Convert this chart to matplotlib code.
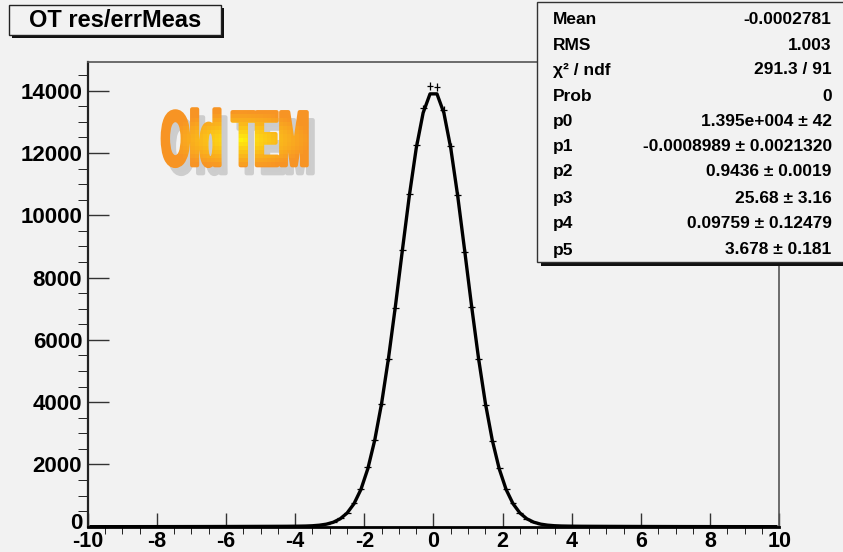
import numpy as np
import matplotlib
matplotlib.use("Agg")
import matplotlib.pyplot as plt
import matplotlib.patheffects as pe
from matplotlib.patches import Rectangle
from matplotlib.ticker import MultipleLocator
from matplotlib.transforms import Affine2D, Bbox, ScaledTranslation

plt.rcParams["axes.unicode_minus"] = False

# histogram: 100 bins from -10 to 10
X_MIN, X_MAX, N_BINS = -10.0, 10.0, 100

counts = [
    0, 1, 0, 2, 1, 1, 3, 2, 1, 2, 3, 4, 2, 5, 4, 3, 6, 5, 7, 5,
    8, 6, 9, 8, 10, 9, 12, 11, 14, 13,
    19, 24, 34, 52, 88, 152, 264, 452, 762, 1220,
    1905, 2795, 3935, 5385, 7025, 8870, 10690, 12260, 13430, 14150,
    14125, 13390, 12210, 10650, 8835, 7045, 5375, 3905, 2760, 1890,
    1212, 752, 446, 259, 149, 85, 51, 33, 23, 18,
    14, 12, 13, 10, 11, 9, 10, 8, 7, 8, 6, 7, 5, 6, 4, 5, 3, 4, 2, 3,
    3, 2, 1, 2, 1, 0, 1, 1, 0, 1,
]

# fitted curve read at the bin centres
fit_vals = [
    0.6, 0.7, 0.8, 1.0, 1.1, 1.3, 1.5, 1.7, 1.9, 2.1,
    2.4, 2.7, 3.0, 3.4, 3.8, 4.2, 4.6, 5.1, 5.6, 6.2,
    6.8, 7.4, 8.1, 8.8, 9.5, 10.2, 11.0, 11.8, 12.6, 14.5,
    17, 21, 30, 48, 81, 142, 252, 437, 736, 1193,
    1859, 2776, 3966, 5424, 7095, 8877, 10619, 12148, 13289, 13898,
    13898, 13289, 12148, 10619, 8877, 7096, 5424, 3967, 2777, 1860,
    1194, 737, 438, 253, 144, 82, 49, 31, 22, 18,
    15.3, 13.2, 12.4, 11.6, 10.8, 10.0, 9.3, 8.6, 7.9, 7.2,
    6.6, 6.0, 5.5, 5.0, 4.5, 4.0, 3.6, 3.2, 2.9, 2.6,
    2.3, 2.0, 1.8, 1.6, 1.4, 1.2, 1.0, 0.9, 0.8, 0.7,
]

x_ticks = [-10, -8, -6, -4, -2, 0, 2, 4, 6, 8, 10]
y_ticks = [0, 2000, 4000, 6000, 8000, 10000, 12000, 14000]

title_text = "OT res/errMeas"
stat_labels = ["Mean", "RMS", "\u03c7\u00b2 / ndf", "Prob", "p0", "p1", "p2", "p3", "p4", "p5"]
stat_values = [
    "-0.0002781", "1.003", "291.3 / 91", "0",
    "1.395e+004 \u00b1 42", "-0.0008989 \u00b1 0.0021320",
    "0.9436 \u00b1 0.0019", "25.68 \u00b1 3.16",
    "0.09759 \u00b1 0.12479", "3.678 \u00b1 0.181",
]
stamp_text = "Old TEM"

W, H = 843, 552
BG = "#f2f2f2"
FONT = "Liberation Sans"


def fx(x):
    return x / W


def fy(y):
    return 1 - y / H


class WordArt(pe.AbstractPathEffect):
    """Squeeze the glyphs into a box, add a grey shadow and an orange/yellow fill."""

    def __init__(self, fig, box, shadow=(6, 8), stroke=3.0):
        super().__init__()
        self.fig = fig
        self.box = box
        self.shadow = shadow
        self.stroke = stroke

    def draw_path(self, renderer, gc, tpath, affine, rgbFace=None):
        x0, y0, x1, y1 = self.box
        (bx0, by0), (bx1, by1) = self.fig.transFigure.transform(
            [[fx(x0), fy(y1)], [fx(x1), fy(y0)]])
        ext = tpath.get_extents(affine)
        t = affine + Affine2D().translate(-ext.x0, -ext.y0).scale(
            (bx1 - bx0) / ext.width, (by1 - by0) / ext.height).translate(bx0, by0)

        gc0 = renderer.new_gc()
        gc0.copy_properties(gc)
        gc0.set_linewidth(self.stroke)
        gc0.set_joinstyle("round")
        gc0.set_foreground("#cdcdcd")
        dx, dy = self.shadow
        renderer.draw_path(gc0, tpath, t + Affine2D().translate(dx, -dy),
                           (0.80, 0.80, 0.80))

        yellow = np.array([1.0, 0.96, 0.05])
        orange = np.array([0.97, 0.58, 0.14])
        cx, cy = (bx0 + bx1) / 2 + 5, (by0 + by1) / 2 - 2
        rx, ry = (bx1 - bx0) / 2, (by1 - by0) / 2
        step = 4
        for xa in np.arange(bx0 - 4, bx1 + 4, step):
            for ya in np.arange(by0 - 4, by1 + 4, step):
                r = np.hypot((xa + step / 2 - cx) / rx, (ya + step / 2 - cy) / ry)
                k = min(r, 1.0) ** 0.8
                col = tuple(yellow * (1 - k) + orange * k)
                g = renderer.new_gc()
                g.copy_properties(gc)
                g.set_clip_rectangle(Bbox.from_extents(xa, ya, xa + step, ya + step))
                g.set_linewidth(self.stroke)
                g.set_joinstyle("round")
                g.set_foreground(col)
                renderer.draw_path(g, tpath, t, col)
                g.restore()
        gc0.restore()


fig = plt.figure(figsize=(W / 100, H / 100), dpi=100, facecolor=BG)
ax = fig.add_axes([fx(87.7), fy(526.7), fx(779.3) - fx(87.7), fy(61.7) - fy(526.7)])
ax.set_facecolor(BG)

edges = np.linspace(X_MIN, X_MAX, N_BINS + 1)
centers = (edges[:-1] + edges[1:]) / 2
counts_arr = np.array(counts, dtype=float)

ax.errorbar(centers, counts_arr, xerr=(edges[1] - edges[0]) / 2, yerr=np.sqrt(counts_arr),
            fmt="none", ecolor="black", elinewidth=0.9, capsize=0, zorder=2)
ax.plot(centers, fit_vals, color="black", lw=2.4, zorder=3, solid_joinstyle="round")

ax.set_xlim(X_MIN, X_MAX)
ax.set_ylim(0, 14931)
ax.set_xticks(x_ticks)
ax.set_yticks(y_ticks)
ax.xaxis.set_minor_locator(MultipleLocator(0.5))
ax.yaxis.set_minor_locator(MultipleLocator(500))
ax.tick_params(direction="in", width=1.0, color="#333333", top=False, right=False)
ax.tick_params(axis="x", which="major", length=10, pad=3)
ax.tick_params(axis="x", which="minor", length=5)
ax.tick_params(axis="y", which="major", length=15, pad=4)
ax.tick_params(axis="y", which="minor", length=7.5)
for lab in ax.get_yticklabels():
    lab.set_fontfamily(FONT)
    lab.set_fontweight("bold")
    lab.set_fontsize(16)
for lab in ax.get_xticklabels():
    lab.set_fontfamily(FONT)
    lab.set_fontweight("bold")
    lab.set_fontsize(15.5)

# the "0" of the y axis sits a little above the corner, as in the original
zero_lab = ax.get_yticklabels()[0]
zero_lab.set_transform(zero_lab.get_transform()
                       + ScaledTranslation(0, 4 / 72, fig.dpi_scale_trans))

ax.spines["bottom"].set_linewidth(2.0)
ax.spines["left"].set_linewidth(1.6)
ax.spines["left"].set_color("#222222")
ax.spines["top"].set_linewidth(1.2)
ax.spines["top"].set_color("#555555")
ax.spines["right"].set_linewidth(1.2)
ax.spines["right"].set_color("#555555")

# title box
fig.add_artist(Rectangle((fx(12.3), fy(38)), fx(211.4), fy(0) - fy(30),
                         facecolor="#111111", edgecolor="none", zorder=1))
fig.add_artist(Rectangle((fx(9.3), fy(35)), fx(211.4), fy(0) - fy(30),
                         facecolor=BG, edgecolor="#222222", lw=1.0, zorder=1.1))
fig.text(fx(115), fy(20.5), title_text, ha="center", va="center",
         fontfamily=FONT, fontweight="bold", fontsize=17, zorder=2)

# stats box
fig.add_artist(Rectangle((fx(541.3), fy(265.5)), fx(310), fy(0) - fy(263.5),
                         facecolor="#111111", edgecolor="none", zorder=1))
fig.add_artist(Rectangle((fx(537.3), fy(261.7)), fx(310), fy(0) - fy(259.7),
                         facecolor=BG, edgecolor="#333333", lw=1.0, zorder=1.1))
row_y = [20, 45, 70, 96.7, 121.7, 146.7, 171.7, 198.3, 223.3, 250]
for yy, lab, val in zip(row_y, stat_labels, stat_values):
    fig.text(fx(552.7), fy(yy), lab, ha="left", va="center",
             fontfamily=FONT, fontweight="bold", fontsize=12.5, zorder=2)
    fig.text(fx(831.7), fy(yy), val, ha="right", va="center",
             fontfamily=FONT, fontweight="bold", fontsize=12.5, zorder=2)

# "Old TEM" stamp
stamp = fig.text(fx(162.7), fy(166), stamp_text, ha="left", va="baseline",
                 fontfamily=FONT, fontweight="bold", fontsize=30, zorder=2)
stamp.set_path_effects([WordArt(fig, (162.7, 109.3, 306.7, 166))])

fig.savefig("out.png", dpi=100, facecolor=BG)
